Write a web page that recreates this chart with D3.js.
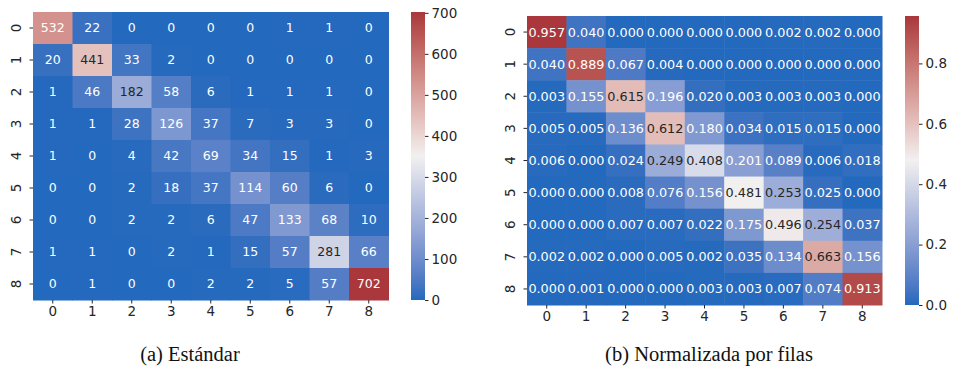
<!DOCTYPE html>
<html>
<head>
<meta charset="utf-8">
<script src="https://cdn.jsdelivr.net/npm/d3@7"></script>
<style>
  body { margin: 0; background: #fff; }
  svg { display: block; }
</style>
</head>
<body>
<script>
var w = 954;
var h = 378;

var categories = ['0', '1', '2', '3', '4', '5', '6', '7', '8'];

// confusion matrix, raw counts (rows = true class)
var counts = [
   [532, 22, 0, 0, 0, 0, 1, 1, 0],
   [20, 441, 33, 2, 0, 0, 0, 0, 0],
   [1, 46, 182, 58, 6, 1, 1, 1, 0],
   [1, 1, 28, 126, 37, 7, 3, 3, 0],
   [1, 0, 4, 42, 69, 34, 15, 1, 3],
   [0, 0, 2, 18, 37, 114, 60, 6, 0],
   [0, 0, 2, 2, 6, 47, 133, 68, 10],
   [1, 1, 0, 2, 1, 15, 57, 281, 66],
   [0, 1, 0, 0, 2, 2, 5, 57, 702]
];

// same matrix normalised by rows
var normalized = [
   [0.957, 0.040, 0.000, 0.000, 0.000, 0.000, 0.002, 0.002, 0.000],
   [0.040, 0.889, 0.067, 0.004, 0.000, 0.000, 0.000, 0.000, 0.000],
   [0.003, 0.155, 0.615, 0.196, 0.020, 0.003, 0.003, 0.003, 0.000],
   [0.005, 0.005, 0.136, 0.612, 0.180, 0.034, 0.015, 0.015, 0.000],
   [0.006, 0.000, 0.024, 0.249, 0.408, 0.201, 0.089, 0.006, 0.018],
   [0.000, 0.000, 0.008, 0.076, 0.156, 0.481, 0.253, 0.025, 0.000],
   [0.000, 0.000, 0.007, 0.007, 0.022, 0.175, 0.496, 0.254, 0.037],
   [0.002, 0.002, 0.000, 0.005, 0.002, 0.035, 0.134, 0.663, 0.156],
   [0.000, 0.001, 0.000, 0.000, 0.003, 0.003, 0.007, 0.074, 0.913]
];

var countTicks = [0, 100, 200, 300, 400, 500, 600, 700];
var normTicks = [0, 0.2, 0.4, 0.6, 0.8];

var captions = ['(a) Estándar', '(b) Normalizada por filas'];

var svg = d3.select('body')
   .append('svg')
   .attr('width', w)
   .attr('height', h);

// rough copy of seaborn's "vlag" map
var vlag = d3.scaleLinear()
   .domain([0, 0.5, 1])
   .range(['#2369bd', '#f2f0f0', '#a9373b'])
   .interpolate(d3.interpolateLab);

function luminance(c) {
   var rgb = d3.rgb(c);
   var lin = [rgb.r, rgb.g, rgb.b].map(function(v) {
      v = v / 255;
      return v <= 0.03928 ? v / 12.92 : Math.pow((v + 0.055) / 1.055, 2.4);
   });
   return 0.2126 * lin[0] + 0.7152 * lin[1] + 0.0722 * lin[2];
}

var gradId = 0;

function heatmap(data, ticks, fmt, box) {
   var vmax = d3.max(data, function(r) { return d3.max(r); });
   var g = svg.append('g');

   var x = d3.scaleBand().domain(categories).range([box.x0, box.x1]);
   var y = d3.scaleBand().domain(categories).range([box.y0, box.y1]);
   var c = function(v) { return vlag(v / vmax); };

   var cells = [];
   data.forEach(function(row, i) {
      row.forEach(function(v, j) {
         cells.push({ r: categories[i], c: categories[j], v: v });
      });
   });

   g.selectAll('rect.cell')
      .data(cells)
      .enter()
      .append('rect')
      .attr('class', 'cell')
      .attr('x', function(d) { return x(d.c); })
      .attr('y', function(d) { return y(d.r); })
      .attr('width', x.bandwidth() + 0.5)
      .attr('height', y.bandwidth() + 0.5)
      .attr('fill', function(d) { return c(d.v); });

   g.selectAll('text.ann')
      .data(cells)
      .enter()
      .append('text')
      .attr('class', 'ann')
      .text(function(d) { return fmt(d.v); })
      .attr('x', function(d) { return x(d.c) + x.bandwidth() / 2; })
      .attr('y', function(d) { return y(d.r) + y.bandwidth() / 2; })
      .attr('dy', '0.35em')
      .attr('text-anchor', 'middle')
      .attr('font-family', 'DejaVu Sans, sans-serif')
      .attr('font-size', box.annSize)
      .attr('fill', function(d) { return luminance(c(d.v)) > 0.408 ? '#262626' : '#ffffff'; });

   // axes
   var xAxis = g.append('g')
      .attr('transform', 'translate(0,' + box.y1 + ')')
      .call(d3.axisBottom(x).tickSize(3.5).tickPadding(3));
   var yAxis = g.append('g')
      .attr('transform', 'translate(' + box.x0 + ',0)')
      .call(d3.axisLeft(y).tickSize(3.5).tickPadding(3));
   [xAxis, yAxis].forEach(function(a) {
      a.select('.domain').remove();
      a.selectAll('line').attr('stroke', '#262626');
      a.selectAll('text')
         .attr('fill', '#262626')
         .attr('font-family', 'DejaVu Sans, sans-serif')
         .attr('font-size', box.tickSize);
   });
   yAxis.selectAll('text')
      .attr('text-anchor', 'middle')
      .attr('dy', '0')
      .attr('x', 0)
      .attr('transform', 'translate(-12,0) rotate(-90)');

   // colorbar
   var id = 'grad' + (gradId++);
   var grad = svg.append('defs').append('linearGradient')
      .attr('id', id)
      .attr('x1', 0).attr('y1', 1).attr('x2', 0).attr('y2', 0);
   d3.range(0, 1.0001, 0.05).forEach(function(t) {
      grad.append('stop')
         .attr('offset', t)
         .attr('stop-color', vlag(t));
   });
   var cy = d3.scaleLinear().domain([0, vmax]).range([box.y1, box.y0]);
   g.append('rect')
      .attr('x', box.cb0)
      .attr('y', box.y0)
      .attr('width', box.cb1 - box.cb0)
      .attr('height', box.y1 - box.y0)
      .attr('fill', 'url(#' + id + ')');
   var cAxis = g.append('g')
      .attr('transform', 'translate(' + box.cb1 + ',0)')
      .call(d3.axisRight(cy).tickValues(ticks).tickSize(3.5).tickPadding(3)
         .tickFormat(box.cbFmt));
   cAxis.select('.domain').remove();
   cAxis.selectAll('line').attr('stroke', '#262626');
   cAxis.selectAll('text')
      .attr('fill', '#262626')
      .attr('font-family', 'DejaVu Sans, sans-serif')
      .attr('font-size', box.tickSize);
}

heatmap(counts, countTicks, d3.format('d'), {
   x0: 33, x1: 388.5, y0: 12, y1: 300, cb0: 411, cb1: 425,
   annSize: 12.5, tickSize: 13.5, cbFmt: d3.format('d')
});

heatmap(normalized, normTicks, d3.format('.3f'), {
   x0: 527, x1: 882, y0: 16, y1: 305, cb0: 905, cb1: 919,
   annSize: 12.8, tickSize: 13.5, cbFmt: d3.format('.1f')
});

svg.selectAll('text.caption')
   .data(captions)
   .enter()
   .append('text')
   .attr('class', 'caption')
   .text(function(d) { return d; })
   .attr('x', function(d, i) { return i === 0 ? 190 : 709; })
   .attr('y', 361)
   .attr('text-anchor', 'middle')
   .attr('font-family', 'Liberation Serif, serif')
   .attr('font-size', 20.5)
   .attr('fill', '#111');
</script>
</body>
</html>
